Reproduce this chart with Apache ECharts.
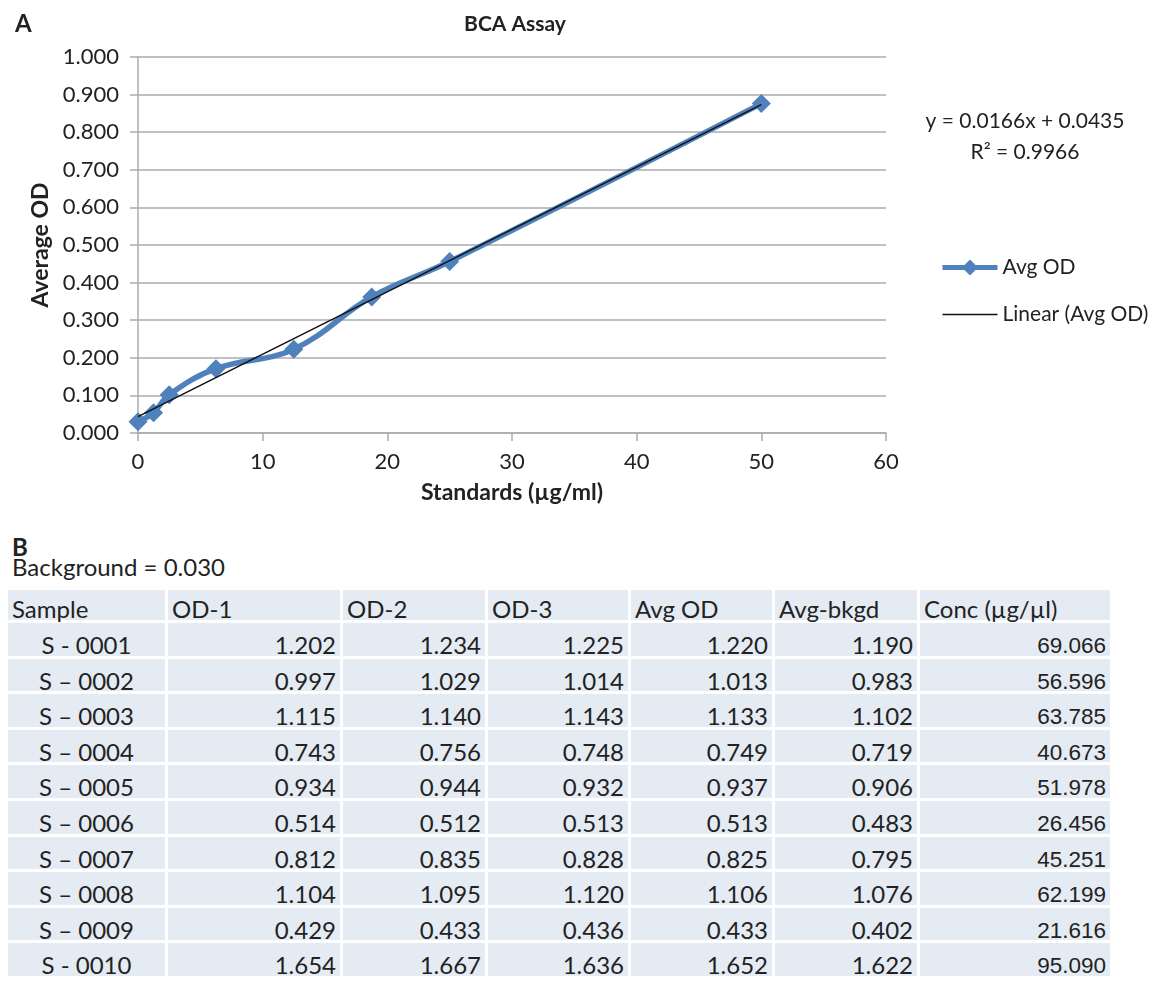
<!DOCTYPE html>
<html>
<head>
<meta charset="utf-8">
<script src="https://cdn.jsdelivr.net/npm/echarts@6/dist/echarts.min.js"></script>
<style>
  html, body { margin: 0; padding: 0; background: #fff; }
  body { width: 1173px; height: 990px; position: relative; font-family: Lato, sans-serif; color: #222; overflow: hidden; }
  #chart { position: absolute; left: 0; top: 0; width: 1173px; height: 520px; }
  .lbl-b { position: absolute; left: 12px; top: 532px; font-size: 24px; font-weight: bold; line-height: 29px; }
  .bkgd { position: absolute; left: 12px; top: 552px; font-size: 24px; line-height: 29px; }
  table.assay { position: absolute; left: 5px; top: 587px; border-collapse: separate; border-spacing: 3px; table-layout: fixed; font-size: 24px; }
  table.assay td, table.assay th { background: #e5ebf3; box-sizing: border-box; padding: 8px 4px 0 4px; height: 32.6px; font-weight: normal; white-space: nowrap; line-height: 22px; vertical-align: top; }
  table.assay th { text-align: left; height: 30px; padding-top: 8px; }
  table.assay td { text-align: right; }
  table.assay td.s { text-align: center; }
  table.assay td span { position: relative; top: 3px; }
  table.assay td.c { font-family: "Liberation Sans", Arial, sans-serif; font-size: 22.5px; }
  table.assay td.c span { top: 4px; }
</style>
</head>
<body>
<div id="chart"></div>
<div class="lbl-b">B</div>
<div class="bkgd">Background = 0.030</div>
<table class="assay" id="assay"></table>
<script>
// standards curve (part A)
const standards = [0, 1.25, 2.5, 6.25, 12.5, 18.75, 25, 50]
const avgOD = [0.030, 0.054, 0.102, 0.171, 0.223, 0.362, 0.456, 0.876]
// linear trendline y = 0.0166x + 0.0435, end points
const trendX = [0, 50]
const trendY = [0.0435, 0.8735]

// sample table (part B)
const headers = ['Sample', 'OD-1', 'OD-2', 'OD-3', 'Avg OD', 'Avg-bkgd', 'Conc (\u00b5g/\u00b5l)']
const samples = ['S - 0001', 'S \u2013 0002', 'S \u2013 0003', 'S \u2013 0004', 'S \u2013 0005', 'S \u2013 0006', 'S \u2013 0007', 'S \u2013 0008', 'S \u2013 0009', 'S - 0010']
const od1 = ['1.202', '0.997', '1.115', '0.743', '0.934', '0.514', '0.812', '1.104', '0.429', '1.654']
const od2 = ['1.234', '1.029', '1.140', '0.756', '0.944', '0.512', '0.835', '1.095', '0.433', '1.667']
const od3 = ['1.225', '1.014', '1.143', '0.748', '0.932', '0.513', '0.828', '1.120', '0.436', '1.636']
const avg = ['1.220', '1.013', '1.133', '0.749', '0.937', '0.513', '0.825', '1.106', '0.433', '1.652']
const avgBkgd = ['1.190', '0.983', '1.102', '0.719', '0.906', '0.483', '0.795', '1.076', '0.402', '1.622']
const conc = ['69.066', '56.596', '63.785', '40.673', '51.978', '26.456', '45.251', '62.199', '21.616', '95.090']
const colWidths = [157, 172, 142, 140, 141, 142, 190]

const fontFamily = 'Lato, sans-serif'
const blue = '#4f81bd'
const gridGray = '#ababab'

const chart = echarts.init(document.getElementById('chart'), null, { renderer: 'canvas' })
chart.setOption({
  animation: false,
  textStyle: { fontFamily: fontFamily, color: '#222' },
  title: [
    { text: 'A', left: 10, top: 7, textStyle: { fontSize: 24, fontWeight: 'bold', color: '#222', fontFamily: fontFamily } },
    { text: 'BCA Assay', left: 510, top: 9, textAlign: 'center', textStyle: { fontSize: 21, fontWeight: 'bold', color: '#222', fontFamily: fontFamily } },
    {
      text: 'y = 0.0166x + 0.0435\nR\u00b2 = 0.9966',
      left: 1020, top: 101, textAlign: 'center',
      textStyle: { fontSize: 21, fontWeight: 'normal', color: '#222', lineHeight: 31, fontFamily: fontFamily }
    }
  ],
  legend: {
    orient: 'vertical',
    left: 935,
    top: 252,
    itemWidth: 55,
    itemHeight: 20,
    itemGap: 26,
    textStyle: { fontSize: 21, color: '#222', fontFamily: fontFamily },
    data: [
      { name: 'Avg OD', lineStyle: { width: 5 } },
      { name: 'Linear (Avg OD)', lineStyle: { width: 1.5 }, itemStyle: { opacity: 0 } }
    ]
  },
  grid: { left: 138, right: 287, top: 57, bottom: 87, containLabel: false },
  xAxis: {
    type: 'value',
    min: 0, max: 60, interval: 10,
    name: 'Standards (\u00b5g/ml)',
    nameLocation: 'middle',
    nameGap: 48,
    nameTextStyle: { fontSize: 23, fontWeight: 'bold', color: '#222' },
    axisLine: { lineStyle: { color: gridGray, width: 1.5 } },
    axisTick: { show: true, length: 8, lineStyle: { color: gridGray, width: 1.5 } },
    axisLabel: { fontSize: 22, color: '#222', margin: 18 },
    splitLine: { show: false }
  },
  yAxis: {
    type: 'value',
    min: 0, max: 1, interval: 0.1,
    name: 'Average OD',
    nameLocation: 'middle',
    nameGap: 86,
    nameRotate: 90,
    nameTextStyle: { fontSize: 23, fontWeight: 'bold', color: '#222' },
    axisLine: { show: true, lineStyle: { color: gridGray, width: 1.5 } },
    axisTick: { show: true, length: 8, lineStyle: { color: gridGray, width: 1.5 } },
    axisLabel: { fontSize: 22, color: '#222', margin: 19, formatter: v => v.toFixed(3) },
    splitLine: { show: true, lineStyle: { color: gridGray, width: 1.5 } }
  },
  series: [
    {
      name: 'Avg OD',
      type: 'line',
      data: standards.map((x, i) => [x, avgOD[i]]),
      smooth: 0.4,
      symbol: 'diamond',
      symbolSize: 19,
      lineStyle: { color: blue, width: 5.5 },
      itemStyle: { color: blue },
      z: 2
    },
    {
      name: 'Linear (Avg OD)',
      type: 'line',
      data: trendX.map((x, i) => [x, trendY[i]]),
      symbol: 'none',
      lineStyle: { color: '#111', width: 1.5 },
      itemStyle: { color: '#111' },
      z: 3
    }
  ]
})

// build the table from the arrays
const table = document.getElementById('assay')
const cell = (v, cls) => '<td' + (cls ? ' class="' + cls + '"' : '') + '><span>' + v + '</span></td>'
let html = '<tr>' + headers.map((h, i) => '<th style="width:' + colWidths[i] + 'px">' + h + '</th>').join('') + '</tr>'
samples.forEach((s, i) => {
  html += '<tr>' + cell(s, 's') + cell(od1[i]) + cell(od2[i]) + cell(od3[i]) +
    cell(avg[i]) + cell(avgBkgd[i]) + cell(conc[i], 'c') + '</tr>'
})
table.innerHTML = html
</script>
</body>
</html>
